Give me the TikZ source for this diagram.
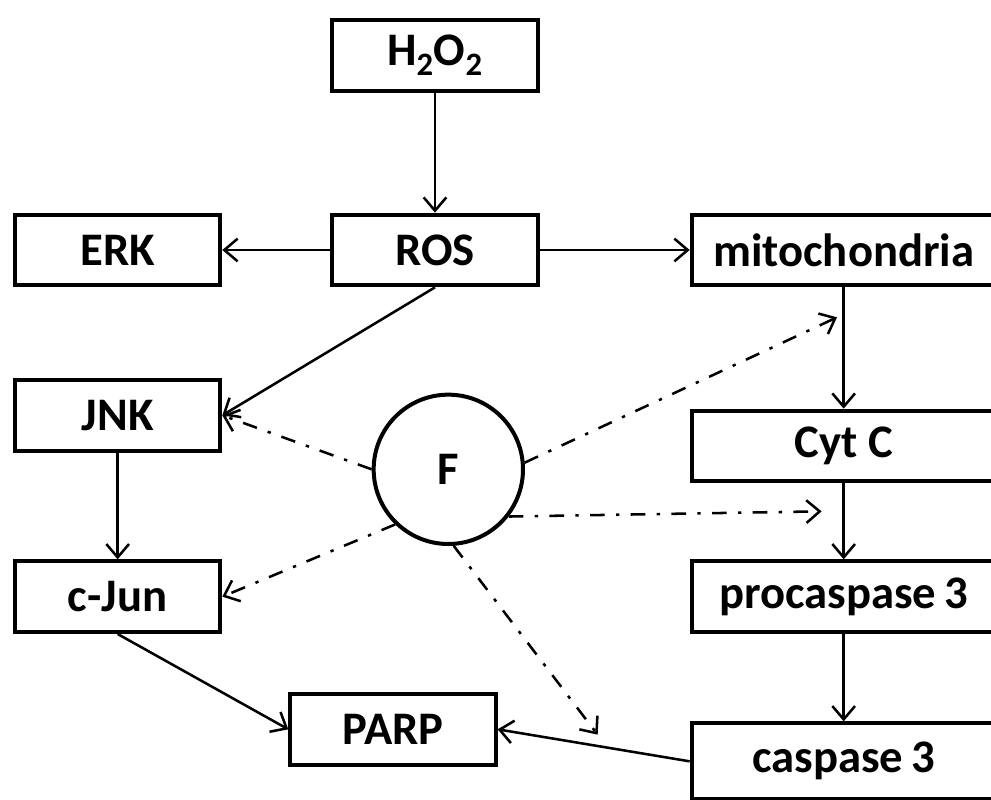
\documentclass[tikz,border=0pt]{standalone}
\usepackage{fontspec}
\setmainfont{Carlito}
\usepackage{tikz}
\usetikzlibrary{arrows.meta, positioning, calc}

\begin{document}
\begin{tikzpicture}[font=\fontsize{35}{42}\selectfont\bfseries,
	box/.style={draw, line width=3pt, minimum width=154pt, minimum height=53pt, inner sep=0pt},
	widebox/.style={box, minimum width=228pt},
	link/.style={-{Straight Barb[length=10pt,width=17pt]}, line width=1.9pt},
	hint/.style={link, dash pattern=on 11pt off 8.5pt on 2.5pt off 8.5pt}]
	\node[box] (ros) {ROS};
	\useasboundingbox ($(ros)+(-326.25pt,187.5pt)$) rectangle ++(743.25pt,-599.25pt);
	\node[box, above=90pt of ros] (h2o2) {H\textsubscript{2}O\textsubscript{2}};
	\node[box, left=81pt of ros] (erk) {ERK};
	\node[widebox, right=112.5pt of ros] (mito) {mitochondria};
		\node[box, below=68pt of erk] (jnk) {JNK};
		\node[box, below=80pt of jnk] (cjun) {c-Jun};
		\node[box, below right=43.5pt and 49.5pt of cjun] (parp) {PARP};
		\node[widebox, below=91pt of mito] (cytc) {Cyt C};
		\node[widebox, below=57pt of cytc] (procasp) {procaspase\hspace{0.18em}3};
		\node[widebox, below=65.5pt of procasp, minimum height=57pt] (casp) {caspase\hspace{0.18em}3};
	\node[below=79pt of ros, xshift=10pt, circle, draw, line width=3pt, minimum size=112pt, inner sep=0pt] (f) {F};
	\coordinate[below=22.5pt of mito.south, xshift=-5pt] (tomito);
	\coordinate[below=21pt of cytc.south, xshift=-16.5pt] (tocytc);
	\coordinate[right=75pt of parp.east, yshift=-4pt] (tocasp);
	\foreach \from/\to in {h2o2/ros,ros/erk,ros/mito,ros.south/jnk.east,jnk/cjun,cjun.south/parp.west,
		mito/cytc,cytc/procasp,procasp/casp,casp.west/parp.east}
		\draw[link] (\from) -- (\to);
	\foreach \from/\to in {f.west/jnk.east,f.5/tomito,f.-38/tocytc,f.226/cjun.east,f.-86/tocasp}
		\draw[hint] (\from) -- (\to);
\end{tikzpicture}
\end{document}
